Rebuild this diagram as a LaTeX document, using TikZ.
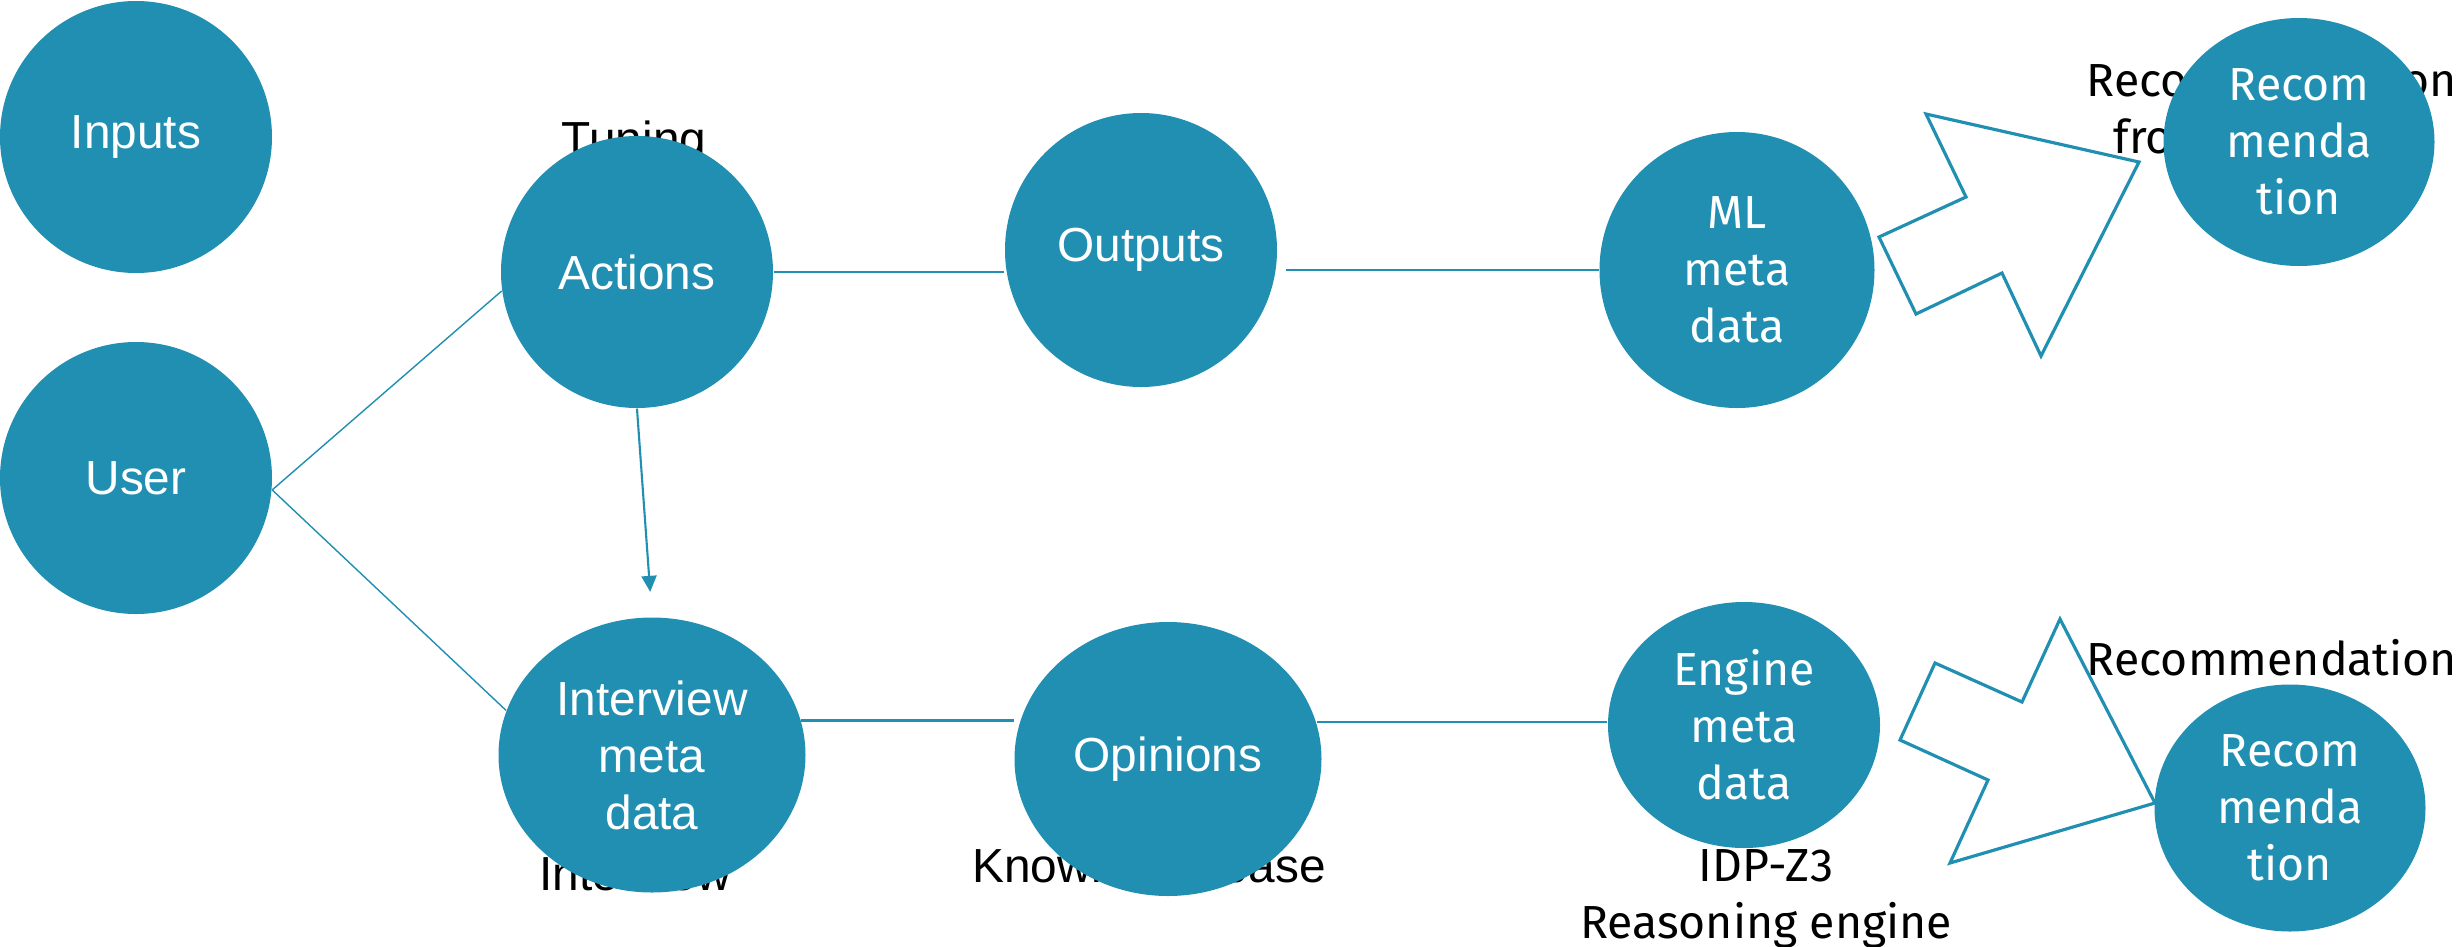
\documentclass[tikz,border=0pt]{standalone}
\usepackage{fontspec}
\setmainfont{Liberation Sans}
\newfontfamily\aptosface{Fira Sans}
\usepackage{tikz}
\usetikzlibrary{arrows.meta,shapes.geometric}

\definecolor{bubbleblue}{RGB}{32,143,177}
\newcommand\plainfont{\fontsize{13.6}{16.2}\selectfont}
\newcommand\softfont{\aptosface\fontsize{13.2}{16.2}\selectfont}

\tikzset{
  bubble/.style={ellipse, fill=bubbleblue, text=white, inner sep=0pt, align=center,
    minimum width=2.72cm, minimum height=2.72cm, font=\plainfont},
  lbl/.style={inner sep=0pt, align=center, font=\plainfont},
  link/.style={draw=bubbleblue, line width=0.6pt},
  flow/.style={link, -{Triangle[width=0.15cm,length=0.16cm]}},
  blockarrow/.style={draw=bubbleblue, fill=white, line width=0.9pt, line join=miter}
}

\begin{document}
\begin{tikzpicture}
\useasboundingbox (0, 0) rectangle (24.58, -9.46);

\node (tuning) at (6.34, -1.55) [lbl, anchor=base] {Tuning};
\node (intlab) at (6.35, -8.90) [lbl, anchor=base] {Interview};
\node (kb) at (11.49, -8.82) [lbl, anchor=base] {Knowledge base};
\node (idp) at (17.66, -9.38) [lbl, anchor=base, font=\softfont] {IDP-Z3\\Reasoning engine};
\node (recmltxt) at (22.72, -1.53) [lbl, anchor=base, font=\softfont] {Recommendation\\from ML model};
\node (recengtxt) at (22.72, -6.75) [lbl, anchor=base, font=\softfont] {Recommendation};

\node (inputs) at (1.36, -1.37) [bubble] {Inputs};
\node (user) at (1.36, -4.78) [bubble] {User};
\node (actions) at (6.37, -2.72) [bubble] {Actions};
\node (outputs) at (11.41, -2.50) [bubble, minimum height=2.74cm] {Outputs};
\node (mlmeta) at (17.37, -2.70) [bubble, minimum width=2.75cm, minimum height=2.76cm, font=\softfont] {ML\\meta\\data};
\node (recml) at (22.99, -1.42) [bubble, minimum width=2.71cm, minimum height=2.48cm, font=\softfont] {Recom\\menda\\tion};
\node (interview) at (6.52, -7.55) [bubble, minimum width=3.07cm, minimum height=2.75cm] {Interview\\meta\\data};
\node (opinions) at (11.68, -7.59) [bubble, minimum width=3.07cm, minimum height=2.74cm] {Opinions};
\node (enginemeta) at (17.44, -7.25) [bubble, minimum height=2.46cm, font=\softfont] {Engine\\meta\\data};
\node (receng) at (22.90, -8.08) [bubble, minimum width=2.71cm, minimum height=2.47cm, font=\softfont] {Recom\\menda\\tion};

\draw[link, line width=0.4pt] (user.-5) -- (actions.188);
\draw[link, line width=0.4pt] (user.-5) -- (interview.163);
\draw[link] (actions.east) -- (actions.east -| outputs.west);
\draw[link, shorten <=0.08cm] (mlmeta.west -| outputs.east) -- (mlmeta.west);
\draw[flow, shorten >=0.25cm] (actions.south) -- (interview.north);
\draw[link] (interview.13) -- (interview.13 -| opinions.west);
\draw[link] (opinions.14) -- (opinions.14 -| enginemeta.west);

\draw[blockarrow] (19.26, -1.14) -- (21.39, -1.62) -- (20.41, -3.56) -- (20.02, -2.73)
  -- (19.16, -3.14) -- (18.79, -2.37) -- (19.66, -1.97) -- cycle;
\draw[blockarrow] (20.60, -6.19) -- (21.55, -8.03) -- (19.50, -8.63) -- (19.88, -7.80)
  -- (19.00, -7.40) -- (19.35, -6.63) -- (20.22, -7.02) -- cycle;
\end{tikzpicture}
\end{document}
